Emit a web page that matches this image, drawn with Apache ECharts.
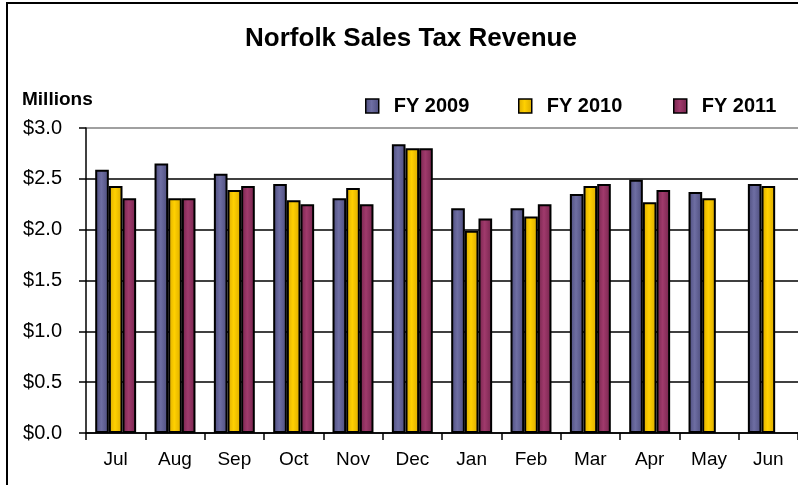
<!DOCTYPE html>
<html>
<head>
<meta charset="utf-8">
<script src="https://cdn.jsdelivr.net/npm/echarts@6/dist/echarts.min.js"></script>
<style>
  html, body { margin: 0; padding: 0; background: #fff; }
  #chart { width: 798px; height: 485px; }
</style>
</head>
<body>
<div id="chart"></div>
<script>
// Monthly sales tax revenue, in millions of dollars
const months = ['Jul', 'Aug', 'Sep', 'Oct', 'Nov', 'Dec', 'Jan', 'Feb', 'Mar', 'Apr', 'May', 'Jun'];
const fy2009 = [2.59, 2.65, 2.55, 2.45, 2.31, 2.84, 2.21, 2.21, 2.35, 2.49, 2.37, 2.45];
const fy2010 = [2.43, 2.31, 2.39, 2.29, 2.41, 2.80, 1.99, 2.13, 2.43, 2.27, 2.31, 2.43];
const fy2011 = [2.31, 2.31, 2.43, 2.25, 2.25, 2.80, 2.11, 2.25, 2.45, 2.39, null, null];
const seriesNames = ['FY 2009', 'FY 2010', 'FY 2011'];
const yTicks = [0, 0.5, 1.0, 1.5, 2.0, 2.5, 3.0];

const FONT = '"Liberation Sans", Arial, sans-serif';

// Bars are shaded darker at the edges, lighter in the middle
function shade(edge, mid) {
  return new echarts.graphic.LinearGradient(0, 0, 1, 0, [
    { offset: 0, color: edge },
    { offset: 0.45, color: mid },
    { offset: 1, color: edge }
  ]);
}
const fills = [
  shade('#4c4c7c', '#6e6ea3'),
  shade('#d9a900', '#ffd000'),
  shade('#74244c', '#a03a6c')
];

const chart = echarts.init(document.getElementById('chart'), null, { renderer: 'canvas' });

const seriesData = [fy2009, fy2010, fy2011];
const legendLeft = [360, 513, 668];

chart.setOption({
  animation: false,
  backgroundColor: '#fff',
  grid: { left: 86, right: -1, top: 128, bottom: 52, containLabel: false },
  legend: seriesNames.map((name, i) => ({
    data: [name],
    left: legendLeft[i],
    top: 91,
    itemWidth: 13,
    itemHeight: 14,
    icon: 'rect',
    textStyle: {
      fontFamily: FONT, fontSize: 20, fontWeight: 'bold', color: '#000',
      padding: [0, 0, 0, 10]
    },
    itemStyle: { borderColor: '#000', borderWidth: 1.5 }
  })),
  xAxis: {
    type: 'category',
    data: months,
    axisLine: { lineStyle: { color: '#000', width: 1.5 } },
    axisTick: { show: true, length: 7, lineStyle: { color: '#000', width: 1.5 } },
    axisLabel: { fontFamily: FONT, fontSize: 19, color: '#000', margin: 17 }
  },
  yAxis: {
    type: 'value',
    min: yTicks[0],
    max: yTicks[yTicks.length - 1],
    interval: 0.5,
    axisLine: { show: true, lineStyle: { color: '#000', width: 1.5 } },
    axisTick: { show: true, length: 7, lineStyle: { color: '#000', width: 1.5 } },
    axisLabel: {
      fontFamily: FONT, fontSize: 20, color: '#000', margin: 24,
      formatter: v => '$' + v.toFixed(1)
    },
    splitLine: {
      lineStyle: {
        color: ['#000', '#000', '#000', '#000', '#000', '#000', '#808080'],
        width: 1.5
      }
    }
  },
  series: seriesNames.map((name, i) => ({
    name,
    type: 'bar',
    data: seriesData[i],
    barGap: '0%',
    barCategoryGap: '31%',
    itemStyle: { color: fills[i], borderColor: '#000', borderWidth: 2 }
  })),
  graphic: [
    {
      type: 'rect',
      shape: { x: 7, y: 3, width: 900, height: 600 },
      style: { fill: 'none', stroke: '#000', lineWidth: 2 },
      silent: true
    },
    {
      type: 'text',
      x: 411, y: 39,
      style: {
        text: 'Norfolk Sales Tax Revenue',
        font: 'bold 26px ' + FONT,
        fill: '#000',
        align: 'center', verticalAlign: 'middle'
      }
    },
    {
      type: 'text',
      x: 22, y: 100,
      style: {
        text: 'Millions',
        font: 'bold 19px ' + FONT,
        fill: '#000',
        align: 'left', verticalAlign: 'middle'
      }
    }
  ]
});
</script>
</body>
</html>
